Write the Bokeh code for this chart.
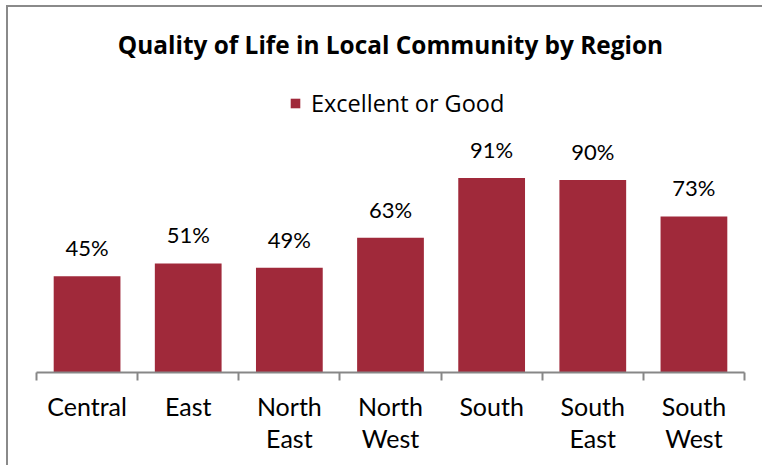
from bokeh.plotting import figure
from bokeh.models import Range1d, FixedTicker, ColumnDataSource, LabelSet, Legend, LegendItem
from bokeh.core.properties import value
from bokeh.embed import file_html
from bokeh.resources import INLINE

# ---- data ----
regions = ["Central", "East", "North East", "North West", "South", "South East", "South West"]
tick_labels = ["Central", "East", "North\nEast", "North\nWest", "South", "South\nEast", "South\nWest"]
values = [45, 51, 49, 63, 91, 90, 73]
series_name = "Excellent or Good"
chart_title = "Quality of Life in Local Community by Region"

BAR = "#A0293A"
AXIS = "#878787"
FONT = "Lato"
TFONT = "Open Sans"

n = len(regions)
xs = [i + 0.5 for i in range(n)]
src = ColumnDataSource(dict(x=xs, top=values, label=[f"{v}%" for v in values]))

p = figure(width=756, height=460, output_backend="svg", toolbar_location=None,
           x_range=Range1d(0, n), y_range=Range1d(0, 138),
           min_border_left=28, min_border_right=20, min_border_top=70, min_border_bottom=95)
p.styles = {"border-left": "2px solid #8a8a8a", "border-top": "2px solid #8a8a8a",
            "margin-left": "6px", "margin-top": "5px"}
p.outline_line_color = None
p.xgrid.visible = False
p.ygrid.visible = False
p.yaxis.visible = False
p.background_fill_color = "white"
p.border_fill_color = "white"

p.title.text = chart_title
p.title.align = "center"
p.title.text_font = TFONT
p.title.text_font_style = "bold"
p.title.text_font_size = "24.4px"
p.title.text_color = "black"
p.title.standoff = 34

r = p.vbar(x="x", top="top", width=0.66, bottom=0, source=src, fill_color=BAR, line_color=None)

labels = LabelSet(x="x", y="top", text="label", source=src, text_align="center",
                  text_baseline="alphabetic", y_offset=20, text_font=value(FONT),
                  text_font_size="22px", text_color="black")
p.add_layout(labels)

ax = p.xaxis[0]
ax.ticker = FixedTicker(ticks=xs, minor_ticks=list(range(n + 1)))
ax.major_label_overrides = {x: t for x, t in zip(xs, tick_labels)}
ax.major_tick_out = 0
ax.major_tick_in = 0
ax.minor_tick_out = 8
ax.minor_tick_in = 0
ax.minor_tick_line_color = AXIS
ax.minor_tick_line_width = 2
ax.axis_line_color = AXIS
ax.axis_line_width = 2
ax.major_label_text_font = FONT
ax.major_label_text_font_size = "25px"
ax.major_label_text_line_height = 1.07
ax.major_label_text_color = "black"
ax.major_label_standoff = 10

legend = Legend(items=[LegendItem(label=series_name, renderers=[r])],
                location=(253, 253), orientation="horizontal",
                label_text_font=TFONT, label_text_font_size="23.5px", label_text_color="black",
                glyph_width=12, glyph_height=12, label_standoff=10,
                border_line_color=None, background_fill_alpha=0, margin=0, padding=0)
p.add_layout(legend, "center")

open("out.html", "w").write(file_html(p, INLINE))
